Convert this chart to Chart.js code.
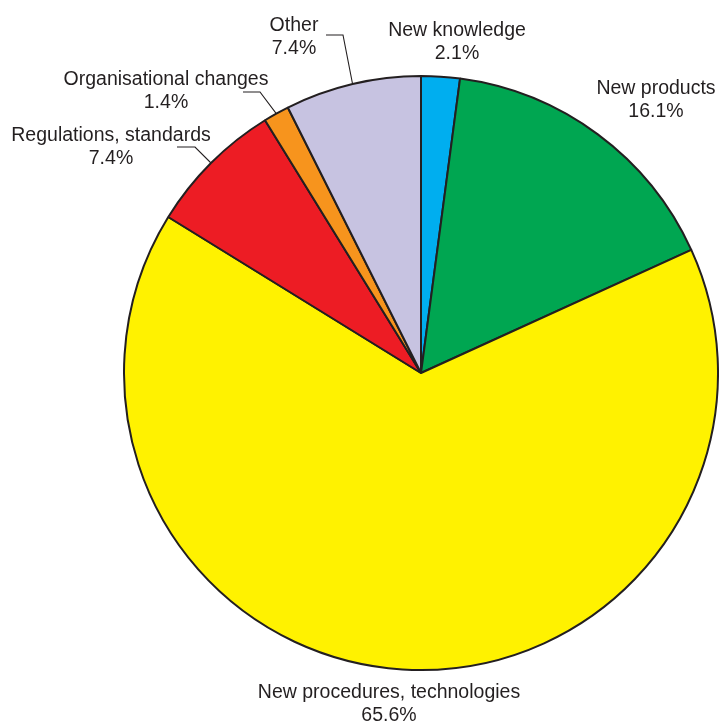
<!DOCTYPE html>
<html>
<head>
<meta charset="utf-8">
<script src="https://cdn.jsdelivr.net/npm/chart.js@4/dist/chart.umd.min.js"></script>
<style>
  html, body { margin: 0; padding: 0; background: #fff; }
  #wrap { width: 719px; height: 725px; position: relative; }
</style>
</head>
<body>
<div id="wrap"><canvas id="c" width="719" height="725"></canvas></div>
<script>
const categories = ["New knowledge", "New products", "New procedures, technologies", "Regulations, standards", "Organisational changes", "Other"];
const shares = [2.1, 16.1, 65.6, 7.4, 1.4, 7.4];
const percentLabels = ["2.1%", "16.1%", "65.6%", "7.4%", "1.4%", "7.4%"];
const colors = ["#00AEEF", "#00A651", "#FFF200", "#ED1C24", "#F7941D", "#C7C3E1"];

// label anchor layout (centre x, y of first line) and optional leader-line elbow
const labelLayout = [
  { x: 457, y: 31, leader: null },
  { x: 656, y: 89, leader: null },
  { x: 389, y: 693, leader: null },
  { x: 111, y: 136, leader: [[177, 147], [195, 147]] },
  { x: 166, y: 80, leader: [[243, 92], [260, 92]] },
  { x: 294, y: 26, leader: [[326, 35], [343, 35]] }
];

const labelPlugin = {
  id: 'pieLabels',
  afterDraw(chart) {
    const ctx = chart.ctx;
    const meta = chart.getDatasetMeta(0);
    ctx.save();
    ctx.font = '19.5px "Liberation Sans", Arial, sans-serif';
    ctx.fillStyle = '#231F20';
    ctx.textAlign = 'center';
    ctx.textBaseline = 'middle';
    meta.data.forEach((arc, i) => {
      const L = labelLayout[i];
      ctx.fillText(categories[i], L.x, L.y);
      ctx.fillText(percentLabels[i], L.x, L.y + 23);
      if (L.leader) {
        const p = arc.getProps(['x', 'y', 'startAngle', 'endAngle', 'outerRadius'], true);
        const mid = (p.startAngle + p.endAngle) / 2;
        const ex = p.x + Math.cos(mid) * p.outerRadius;
        const ey = p.y + Math.sin(mid) * p.outerRadius;
        ctx.beginPath();
        ctx.strokeStyle = '#231F20';
        ctx.lineWidth = 1.1;
        ctx.moveTo(L.leader[0][0], L.leader[0][1]);
        ctx.lineTo(L.leader[1][0], L.leader[1][1]);
        ctx.lineTo(ex, ey);
        ctx.stroke();
      }
    });
    ctx.restore();
  }
};

new Chart(document.getElementById('c'), {
  type: 'pie',
  data: {
    labels: categories,
    datasets: [{
      data: shares,
      backgroundColor: colors,
      borderColor: '#231F20',
      borderWidth: 2,
      borderAlign: 'center'
    }]
  },
  options: {
    responsive: false,
    animation: false,
    layout: { padding: { left: 123, right: 0, top: 75, bottom: 54 } },
    plugins: {
      legend: { display: false },
      tooltip: { enabled: false }
    }
  },
  plugins: [labelPlugin]
});
</script>
</body>
</html>
